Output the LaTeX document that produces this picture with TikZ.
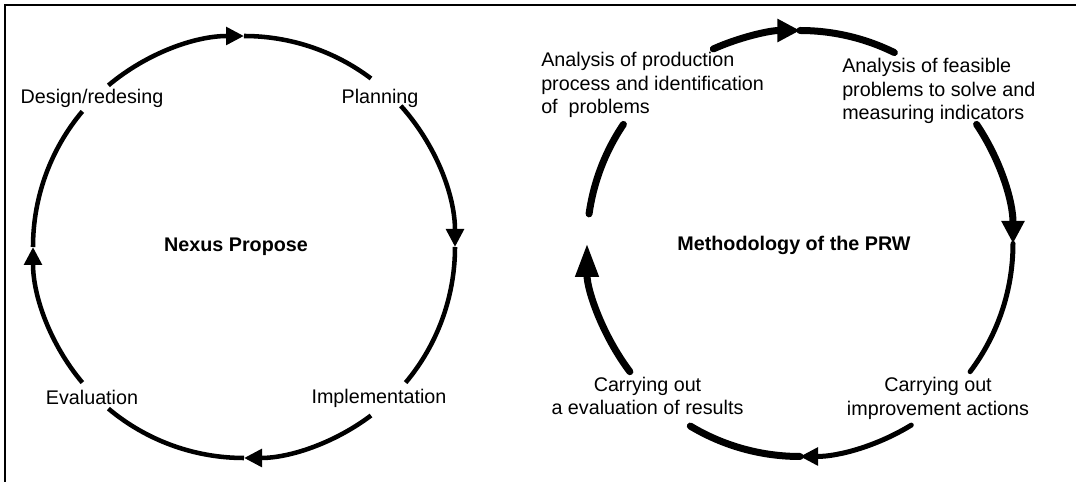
\documentclass[tikz,border=0pt]{standalone}
\usepackage{fontspec}
\setmainfont{Liberation Sans}
\usetikzlibrary{arrows.meta}
\newcommand{\lblfont}{\fontsize{14.8}{17.6}\selectfont}

\begin{document}
\begin{tikzpicture}
   [x=0.75pt,y=0.75pt,every node/.style={inner sep=0pt,font=\lblfont},
    ringl/.style={line width=3.4pt},
    ringw/.style={line width=5.25pt,line cap=round},
    ringn/.style={line width=3.75pt,line cap=round},
    tipsm/.style={-{Triangle[length=13.5pt,width=13pt]}},
    tipmd/.style={-{Triangle[length=17pt,width=16.5pt]}},
    tipdn/.style={-{Triangle[length=13.5pt,width=13pt]}},
    tipbg/.style={-{Triangle[length=25pt,width=16.5pt]}}]

  \useasboundingbox (0,0) rectangle (1076,482);
  \draw[line width=1.5pt] (5,0) -- (5,477) -- (1076,477);

  \coordinate (lc) at (244,235);
  \coordinate (rc) at (800,238.5);

  \node (dr) at (92,384) {Design/redesing};
  \node (pl) at (380,384) {Planning};
  \node[font=\lblfont\bfseries] (np) at (236,235) {Nexus Propose};
  \node (ev) at (92,85) {Evaluation};
  \node (im) at (379,84) {Implementation};

  \node[anchor=west,align=left] (ap) at (541,397) {Analysis of production\\process and identification\\of\ \ problems};
  \node[anchor=west,align=left] (af) at (842,391) {Analysis of feasible\\problems to solve and\\measuring indicators};
  \node[font=\lblfont\bfseries] (mp) at (794,237) {Methodology of the PRW};
  \node[align=center] (ce) at (647.5,86) {Carrying out\\a evaluation of results};
  \node[align=center] (ci) at (938,83.5) {Carrying out\\improvement actions};

  \foreach \s/\e/\o in {130/90/tipsm,90/53/-,42/0/tipsm,0/-40/-,-53/-90/tipsm,-90/-130/-,-140/-180/tipsm,180/140/-}
    \draw[ringl,\o] (lc) ++(\s:211) arc[start angle=\s,end angle=\e,radius=211];

  \foreach \s/\e/\w/\o in {172/146/ringw/-,114/90/ringw/tipmd,90/63.7/ringw/-,34/0/ringw/tipmd,0/-37/ringn/-,-58.5/-90/ringn/tipdn,-90/-121/ringw/-,-143/-180/ringw/tipbg}
    \draw[\w,\o] (rc) ++(\s:213) arc[start angle=\s,end angle=\e,radius=213];

\end{tikzpicture}
\end{document}
